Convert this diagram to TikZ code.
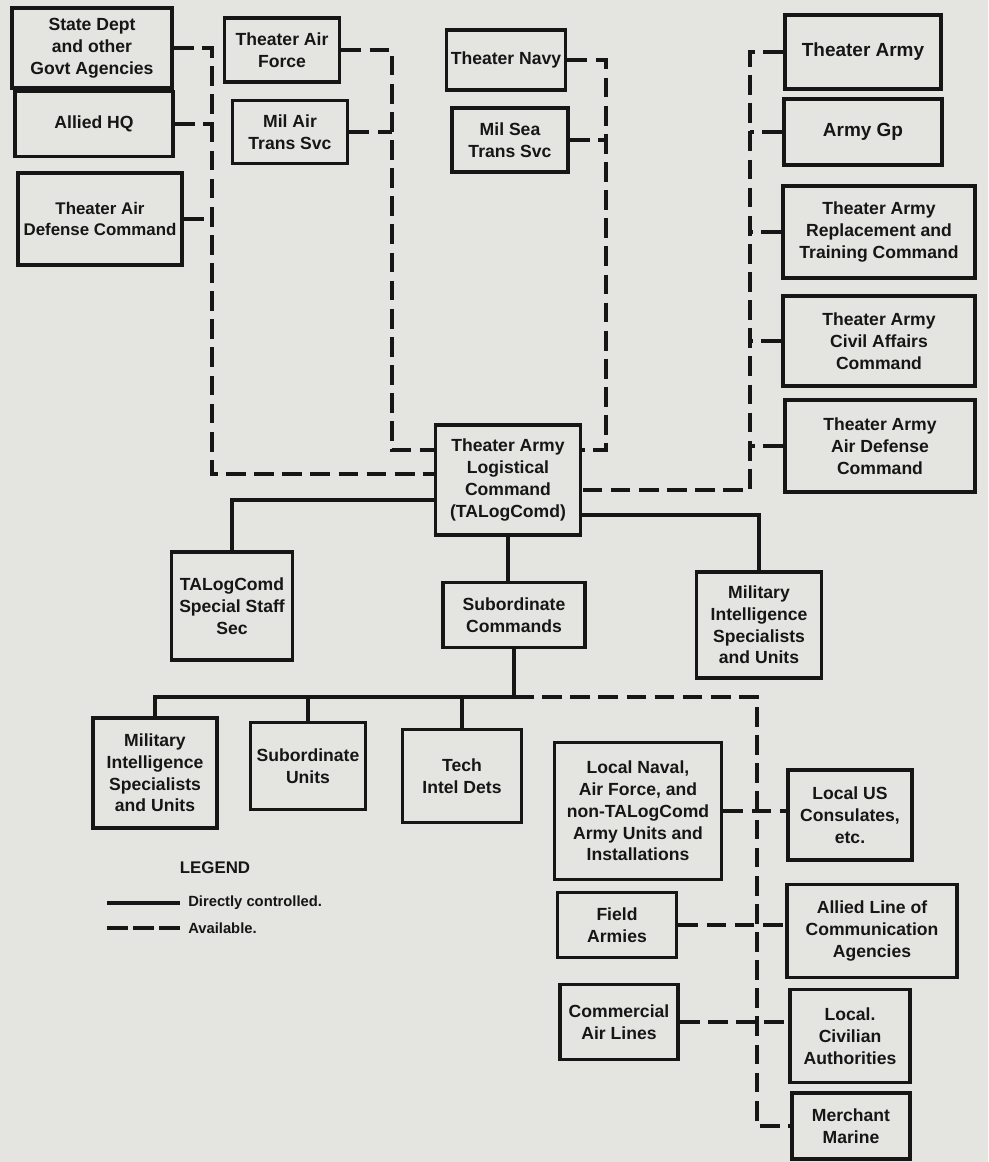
\documentclass[tikz,border=0pt]{standalone}
\usepackage{fontspec}
\setmainfont{Liberation Sans}
\definecolor{paper}{RGB}{228,228,224}
\definecolor{ink}{RGB}{22,22,22}
\begin{document}
\begin{tikzpicture}[x=0.025cm,y=-0.025cm,
  box/.style={draw=ink, text=ink, line width=2.8pt, align=center, inner sep=1pt,
     font=\bfseries\fontsize{12.5}{15.5}\selectfont},
  bx/.style 2 args={minimum width=#1*0.025cm, minimum height=#2*0.025cm},
  solidln/.style={draw=ink, line width=3.2pt},
  dashln/.style={draw=ink, line width=3.2pt, dash pattern=on 14pt off 6pt},
  legdash/.style={draw=ink, line width=3pt, dash pattern=on 14.6pt off 4pt},
  legtext/.style={text=ink, font=\bfseries\fontsize{10.5}{12}\selectfont, inner sep=0pt, anchor=west},
  legtitle/.style={text=ink, font=\bfseries\fontsize{12}{14}\selectfont, inner sep=0pt}]
\useasboundingbox (0,0) rectangle (988,1162);
\fill[paper] (0,0) rectangle (988,1162);

% top-left column
\node[box,bx={160}{80}] (state) at (92,48) {State Dept\\and other\\Govt Agencies};
\node[box,bx={158}{65}] (allied) at (94,124) {Allied HQ};
\node[box,bx={164}{92},font=\bfseries\fontsize{12}{15.5}\selectfont] (tadc) at (100,219) {Theater Air\\Defense Command};
% second column
\node[box,bx={115}{64}] (taf) at (282,50) {Theater Air\\Force};
\node[box,bx={115}{63}] (mats) at (290,132) {Mil Air\\Trans Svc};
% navy column
\node[box,bx={119}{60}] (navy) at (506,60) {Theater Navy};
\node[box,bx={116}{64}] (msts) at (510,140) {Mil Sea\\Trans Svc};
% right column
\node[box,bx={156}{74},font=\bfseries\fontsize{13.5}{16}\selectfont] (tarmy) at (863,52) {Theater Army};
\node[box,bx={158}{66},font=\bfseries\fontsize{13.5}{16}\selectfont] (armygp) at (863,132) {Army Gp};
\node[box,bx={192}{92}] (tartc) at (879,232) {Theater Army\\Replacement and\\Training Command};
\node[box,bx={192}{90}] (tacac) at (879,341) {Theater Army\\Civil Affairs\\Command};
\node[box,bx={190}{92}] (taadc) at (880,446) {Theater Army\\Air Defense\\Command};
% centre
\node[box,bx={145}{110}] (talog) at (508,480) {Theater Army\\Logistical\\Command\\(TALogComd)};
\node[box,bx={121}{108}] (sss) at (232,606) {TALogComd\\Special Staff\\Sec};
\node[box,bx={142}{65}] (subcmd) at (514,615) {Subordinate\\Commands};
\node[box,bx={125}{106}] (mir) at (759,625) {Military\\Intelligence\\Specialists\\and Units};
% lower row
\node[box,bx={124}{110}] (mil) at (155,773) {Military\\Intelligence\\Specialists\\and Units};
\node[box,bx={115}{87}] (subu) at (308,766) {Subordinate\\Units};
\node[box,bx={119}{93}] (tech) at (462,776) {Tech\\Intel Dets};
% lower right
\node[box,bx={167}{137}] (lnaval) at (638,811) {Local Naval,\\Air Force, and\\non-TALogComd\\Army Units and\\Installations};
\node[box,bx={124}{90}] (lus) at (850,815) {Local US\\Consulates,\\etc.};
\node[box,bx={119}{65}] (field) at (617,925) {Field\\Armies};
\node[box,bx={170}{93}] (alloc) at (872,931) {Allied Line of\\Communication\\Agencies};
\node[box,bx={118}{75}] (cal) at (619,1022) {Commercial\\Air Lines};
\node[box,bx={120}{93}] (lca) at (850,1036) {Local.\\Civilian\\Authorities};
\node[box,bx={118}{66}] (merch) at (851,1126) {Merchant\\Marine};

% bend coordinates
\coordinate (lvb) at (212,474);
\coordinate (mvb) at (392,450);
\coordinate (nvb) at (606,450);
\coordinate (rvb) at (750,490);
\coordinate (bj) at (514,697);
\coordinate (dvt) at (757,697);

% available (dashed) links
\draw[dashln] (state.east) -| (lvb) -- (talog.west |- lvb);
\draw[dashln] (allied.east) -- (allied.east -| lvb);
\draw[dashln] (tadc.east) -- (tadc.east -| lvb);
\draw[dashln] (taf.east) -| (mvb) -- (talog.west |- mvb);
\draw[dashln] (mats.east) -- (mats.east -| mvb);
\draw[dashln] (navy.east) -| (nvb) -- (talog.east |- nvb);
\draw[dashln] (msts.east) -- (msts.east -| nvb);
\draw[dashln] (tarmy.west) -| (rvb) -- (talog.east |- rvb);
\draw[dashln] (armygp.west) -- (armygp.west -| rvb);
\draw[dashln] (tartc.west) -- (tartc.west -| rvb);
\draw[dashln] (tacac.west) -- (tacac.west -| rvb);
\draw[dashln] (taadc.west) -- (taadc.west -| rvb);

% directly controlled links
\draw[solidln] (talog.west |- 0,500) -| (sss.north);
\draw[solidln] (talog.east |- 0,515) -| (mir.north);
\draw[solidln] (talog.south) -- (talog.south |- subcmd.north);
\draw[solidln] (subcmd.south) -- (bj) -- (mil.north |- bj) -- (mil.north);
\draw[solidln] (subu.north |- bj) -- (subu.north);
\draw[solidln] (tech.north |- bj) -- (tech.north);

% lower available links
\draw[dashln] (bj) -- (dvt) |- (merch.west);
\draw[dashln] (lnaval.east) -- (lnaval.east -| lus.west);
\draw[dashln] (field.east) -- (field.east -| alloc.west);
\draw[dashln] (cal.east) -- (cal.east -| lca.west);

% legend
\node[legtitle] (leg) at (215,868) {LEGEND};
\coordinate (l1a) at (107,903);
\coordinate (l1b) at (180,903);
\coordinate (l2a) at (107,928);
\coordinate (l2b) at (180,928);
\draw[solidln] (l1a) -- (l1b);
\node[legtext] (l1t) at (188,903) {Directly controlled.};
\draw[legdash] (l2a) -- (l2b);
\node[legtext] (l2t) at (188,928) {Available.};
\end{tikzpicture}
\end{document}
